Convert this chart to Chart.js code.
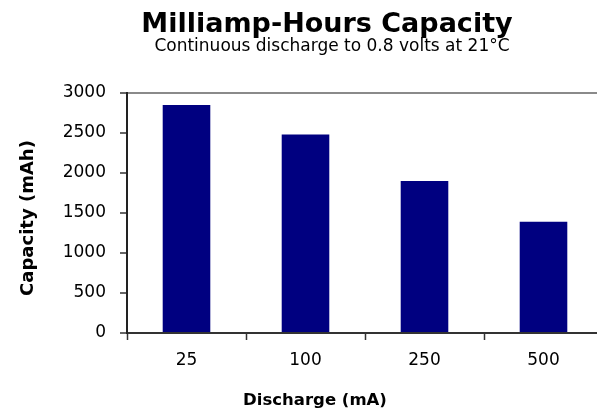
<!DOCTYPE html>
<html>
<head>
<meta charset="utf-8">
<script src="https://cdn.jsdelivr.net/npm/chart.js@4/dist/chart.umd.min.js"></script>
<style>
  html, body { margin: 0; padding: 0; background: #fff; overflow: hidden; }
  #wrap { width: 597px; height: 414px; overflow: hidden; position: relative; }
  #box { width: 606px; height: 414px; position: absolute; left: 0; top: 0; }
</style>
</head>
<body>
<div id="wrap"><div id="box"><canvas id="c"></canvas></div></div>
<script>
// Discharge rates (mA) and measured capacity (mAh)
const categories = ['25', '100', '250', '500'];
const capacity = [2850, 2480, 1900, 1390];
const yTicks = [0, 500, 1000, 1500, 2000, 2500, 3000];

const titleText = 'Milliamp-Hours Capacity';
const subtitleText = 'Continuous discharge to 0.8 volts at 21\u00B0C';
const xTitleText = 'Discharge (mA)';
const yTitleText = 'Capacity (mAh)';

const FONT = '"DejaVu Sans", Verdana, sans-serif';

// Headings and axis titles, drawn on the canvas
const headings = {
  id: 'headings',
  afterDraw(chart) {
    const ctx = chart.ctx;
    ctx.save();
    ctx.fillStyle = '#000';
    ctx.textAlign = 'center';
    ctx.textBaseline = 'alphabetic';
    ctx.font = 'bold 27px ' + FONT;
    ctx.fillText(titleText, 327, 32);
    ctx.font = '17px ' + FONT;
    ctx.fillText(subtitleText, 332, 51);
    ctx.font = 'bold 16.5px ' + FONT;
    ctx.fillText(xTitleText, 315, 405);
    ctx.font = 'bold 18px ' + FONT;
    ctx.translate(33, 218);
    ctx.rotate(-Math.PI / 2);
    ctx.fillText(yTitleText, 0, 0);
    ctx.restore();
  }
};

new Chart(document.getElementById('c'), {
  type: 'bar',
  data: {
    labels: categories,
    datasets: [{
      data: capacity,
      backgroundColor: '#000080',
      borderWidth: 0,
      barPercentage: 0.40,
      categoryPercentage: 1.0
    }]
  },
  options: {
    responsive: true,
    maintainAspectRatio: false,
    animation: false,
    layout: { padding: { top: 93, right: 3, left: 0, bottom: 0 } },
    plugins: {
      legend: { display: false },
      title: { display: false },
      tooltip: { enabled: false }
    },
    scales: {
      x: {
        grid: {
          offset: true,
          drawOnChartArea: false,
          drawTicks: true,
          tickLength: 7,
          tickColor: '#333',
          tickWidth: 1.5
        },
        border: { color: '#333', width: 2 },
        ticks: {
          color: '#000',
          font: { family: FONT, size: 17 },
          padding: 10,
          maxRotation: 0
        },
        afterFit(scale) { scale.height = 81; }
      },
      y: {
        min: 0,
        max: 3000,
        afterBuildTicks(scale) { scale.ticks = yTicks.map(v => ({ value: v })); },
        grid: {
          drawTicks: true,
          tickLength: 7,
          tickColor: '#333',
          tickWidth: 1.5,
          lineWidth: 2,
          color: ctx => (ctx.tick && ctx.tick.value === 3000) ? '#8a8a8a' : 'rgba(0,0,0,0)'
        },
        border: { color: '#222', width: 2 },
        ticks: {
          color: '#000',
          font: { family: FONT, size: 17 },
          padding: 14,
          callback: v => String(v)
        },
        afterFit(scale) { scale.width = 127; }
      }
    }
  },
  plugins: [headings]
});
</script>
</body>
</html>
